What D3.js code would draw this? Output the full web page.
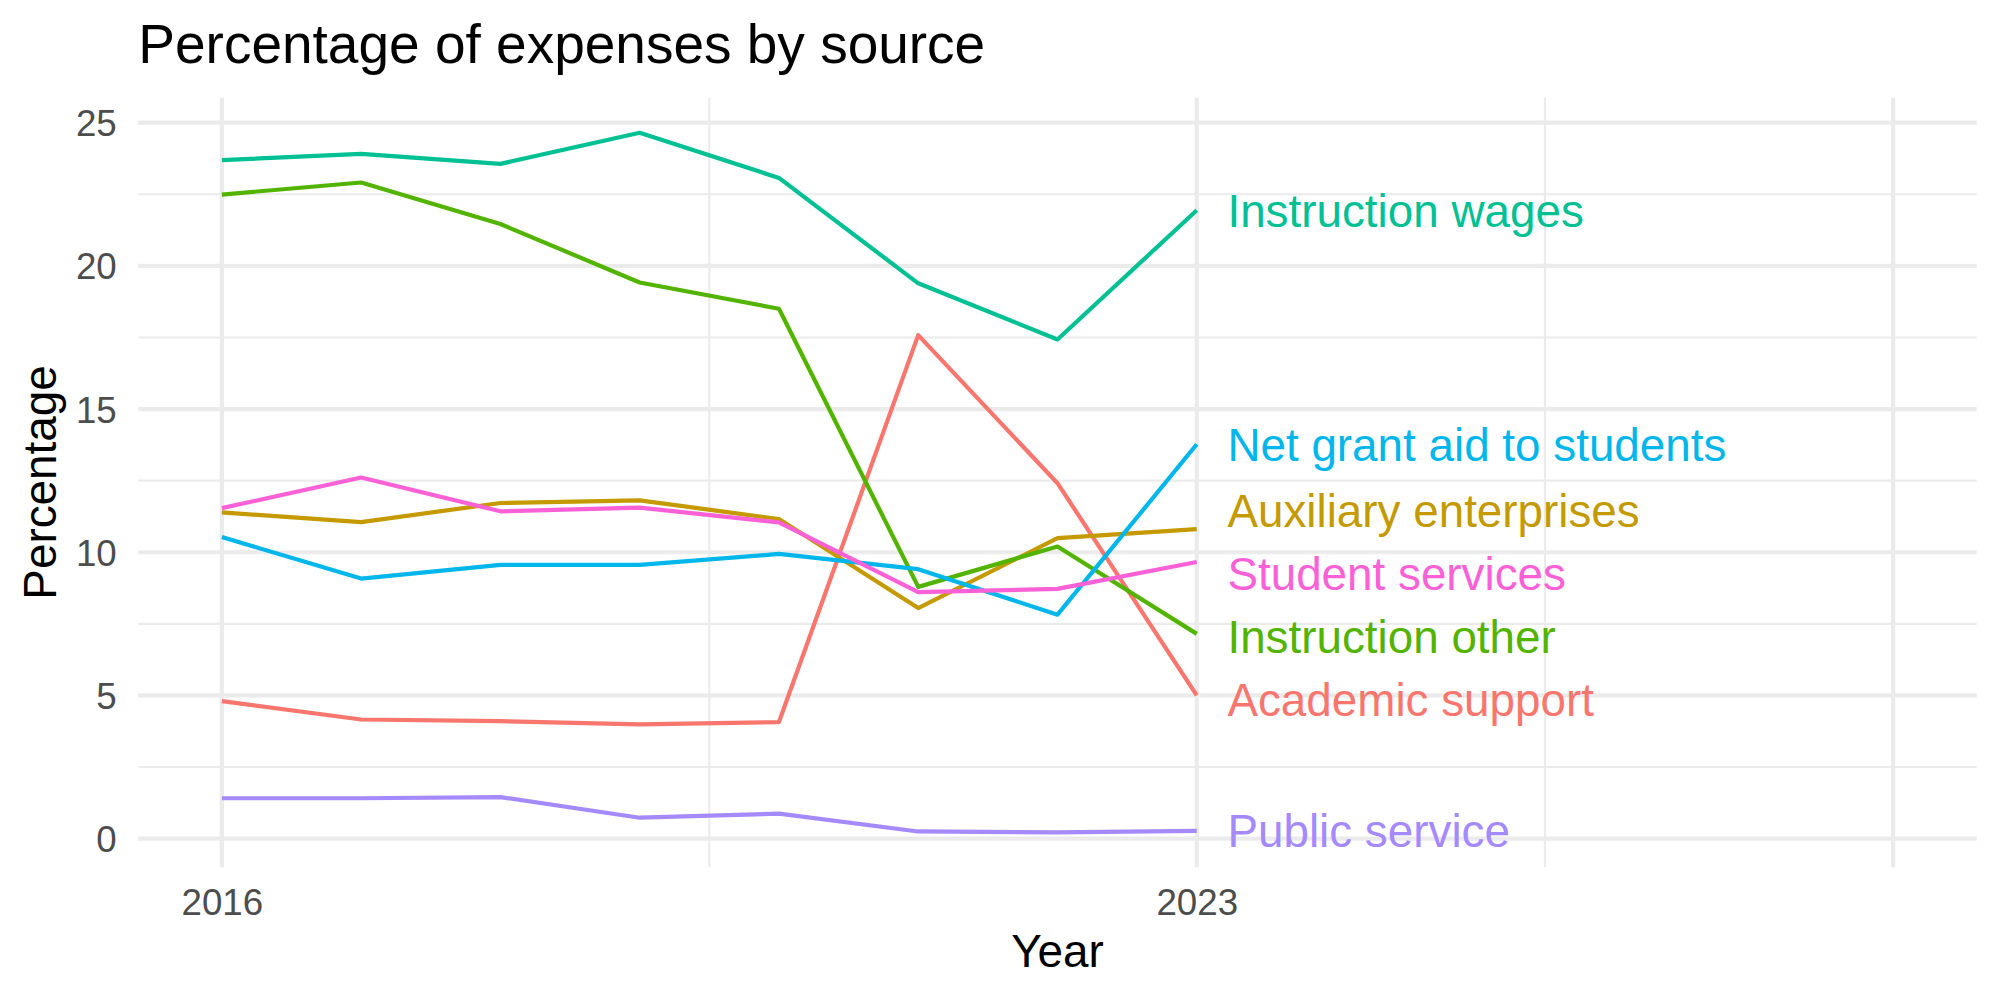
<!DOCTYPE html>
<html>
<head>
<meta charset="utf-8">
<script src="https://cdn.jsdelivr.net/npm/d3@7"></script>
<style>
  body { margin: 0; background: #fff; }
  text { font-family: "Liberation Sans", Arial, Helvetica, sans-serif; }
</style>
</head>
<body>
<div id="chart"></div>
<script>
// data
const years = [2016, 2017, 2018, 2019, 2020, 2021, 2022, 2023];
const sources = ["Academic support", "Auxiliary enterprises", "Instruction other",
  "Instruction wages", "Net grant aid to students", "Public service", "Student services"];
const academicSupport = [4.80, 4.16, 4.10, 3.99, 4.07, 17.58, 12.41, 5.00];
const auxiliaryEnterprises = [11.39, 11.05, 11.72, 11.81, 11.16, 8.05, 10.49, 10.81];
const instructionOther = [22.49, 22.91, 21.46, 19.42, 18.50, 8.79, 10.20, 7.15];
const instructionWages = [23.69, 23.91, 23.56, 24.65, 23.07, 19.39, 17.43, 21.94];
const netGrantAid = [10.53, 9.08, 9.56, 9.56, 9.94, 9.41, 7.82, 13.77];
const publicService = [1.41, 1.41, 1.45, 0.73, 0.87, 0.25, 0.22, 0.27];
const studentServices = [11.54, 12.61, 11.43, 11.56, 11.04, 8.61, 8.72, 9.66];
const seriesValues = [academicSupport, auxiliaryEnterprises, instructionOther,
  instructionWages, netGrantAid, publicService, studentServices];
const xTickLabels = [2016, 2023];
const yTickLabels = [0, 5, 10, 15, 20, 25];
const xLimits = [2016, 2028];

const width = 2000;
const height = 1000;
const panel = { left: 138.3, right: 1976.7, top: 97.7, bottom: 867.3 };
const colors = ["#F8766D", "#C49A00", "#53B400", "#00C094", "#00B6EB", "#A58AFF", "#FB61D7"];
const gridColor = "#EBEBEB";
const lineWidth = 4.2;
const labelSize = 45.8;
const labelGap = 63.3;
const labelNudge = 0.22;

const series = sources.map((name, i) => ({
  name: name,
  color: colors[i],
  points: years.map((y, j) => ({ year: y, value: seriesValues[i][j] }))
}));

// ggplot style 5% expansion
function expand(lo, hi) {
  const pad = (hi - lo) * 0.05;
  return [lo - pad, hi + pad];
}
const allValues = seriesValues.flat();
const x = d3.scaleLinear().domain(expand(xLimits[0], xLimits[1])).range([panel.left, panel.right]);
const y = d3.scaleLinear().domain(expand(d3.min(allValues), d3.max(allValues))).range([panel.bottom, panel.top]);

const svg = d3.select("#chart").append("svg")
  .attr("width", width)
  .attr("height", height);

// grid
const yMajor = yTickLabels;
const yMinor = d3.range(2.5, 25, 5);
const xMajor = [2016, 2023, 2028];
const xMinor = [2019.5, 2025.5];
const grid = svg.append("g");
grid.selectAll(".hminor").data(yMinor).enter().append("line")
  .attr("x1", panel.left).attr("x2", panel.right)
  .attr("y1", d => y(d)).attr("y2", d => y(d))
  .attr("stroke", gridColor).attr("stroke-width", 2.1);
grid.selectAll(".vminor").data(xMinor).enter().append("line")
  .attr("x1", d => x(d)).attr("x2", d => x(d))
  .attr("y1", panel.top).attr("y2", panel.bottom)
  .attr("stroke", gridColor).attr("stroke-width", 2.1);
grid.selectAll(".hmajor").data(yMajor).enter().append("line")
  .attr("x1", panel.left).attr("x2", panel.right)
  .attr("y1", d => y(d)).attr("y2", d => y(d))
  .attr("stroke", gridColor).attr("stroke-width", 4.2);
grid.selectAll(".vmajor").data(xMajor).enter().append("line")
  .attr("x1", d => x(d)).attr("x2", d => x(d))
  .attr("y1", panel.top).attr("y2", panel.bottom)
  .attr("stroke", gridColor).attr("stroke-width", 4.2);

// axes (text only, like theme_minimal)
const xAxis = d3.axisBottom(x).tickValues(xTickLabels).tickFormat(d3.format("d")).tickSize(0).tickPadding(0);
svg.append("g")
  .attr("transform", `translate(0,${panel.bottom})`)
  .call(xAxis)
  .call(g => g.select(".domain").remove())
  .call(g => g.selectAll("text")
    .attr("y", 47.7).attr("dy", null)
    .attr("fill", "#4D4D4D")
    .style("font-size", "36.7px")
    .style("font-family", "'Liberation Sans', Arial, sans-serif"));

const yAxis = d3.axisLeft(y).tickValues(yTickLabels).tickSize(0).tickPadding(0);
svg.append("g")
  .attr("transform", `translate(${116.7},0)`)
  .call(yAxis)
  .call(g => g.select(".domain").remove())
  .call(g => g.selectAll("text")
    .attr("x", 0).attr("dy", "0.358em")
    .attr("fill", "#4D4D4D")
    .style("font-size", "36.7px")
    .style("font-family", "'Liberation Sans', Arial, sans-serif"));

// lines
const line = d3.line().x(d => x(d.year)).y(d => y(d.value));
svg.append("g").selectAll(".series")
  .data(series)
  .enter().append("path")
  .attr("class", "series")
  .attr("d", d => line(d.points))
  .attr("fill", "none")
  .attr("stroke", d => d.color)
  .attr("stroke-width", lineWidth)
  .attr("stroke-linejoin", "round");

// end labels, pushed apart so they don't overlap
function spreadLabels(items) {
  let groups = items.slice().sort((a, b) => a.target - b.target)
    .map(it => ({ members: [it] }));
  const place = g => {
    const mean = d3.mean(g.members, m => m.target);
    const start = mean - (g.members.length - 1) * labelGap / 2;
    g.members.forEach((m, i) => { m.pos = start + i * labelGap; });
  };
  groups.forEach(place);
  let merged = true;
  while (merged) {
    merged = false;
    for (let i = 0; i < groups.length - 1; i++) {
      const a = groups[i], b = groups[i + 1];
      if (b.members[0].pos - a.members[a.members.length - 1].pos < labelGap) {
        const g = { members: a.members.concat(b.members) };
        place(g);
        groups.splice(i, 2, g);
        merged = true;
        break;
      }
    }
  }
  return items;
}
const labels = spreadLabels(series.map(s => ({
  name: s.name,
  color: s.color,
  target: y(s.points[s.points.length - 1].value)
})));

svg.append("g").selectAll(".label")
  .data(labels)
  .enter().append("text")
  .attr("x", x(years[years.length - 1] + labelNudge))
  .attr("y", d => d.pos)
  .attr("dy", "0.358em")
  .attr("fill", d => d.color)
  .style("font-size", labelSize + "px")
  .text(d => d.name);

// titles
svg.append("text")
  .attr("x", panel.left)
  .attr("y", 63.3)
  .style("font-size", "55px")
  .attr("fill", "#000")
  .text("Percentage of expenses by source");

svg.append("text")
  .attr("x", (panel.left + panel.right) / 2)
  .attr("y", 967)
  .attr("text-anchor", "middle")
  .style("font-size", "45.8px")
  .attr("fill", "#000")
  .text("Year");

svg.append("text")
  .attr("transform", `translate(56,${(panel.top + panel.bottom) / 2}) rotate(-90)`)
  .attr("text-anchor", "middle")
  .style("font-size", "45.8px")
  .attr("fill", "#000")
  .text("Percentage");
</script>
</body>
</html>
